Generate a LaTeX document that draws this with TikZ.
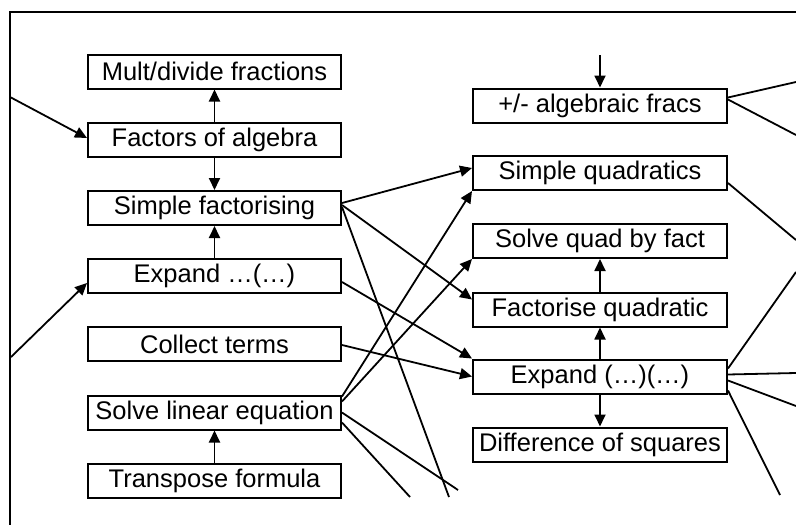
\documentclass[tikz,border=0pt]{standalone}
\usepackage{fontspec}
\setmainfont{Liberation Sans}
\usetikzlibrary{arrows.meta}
\begin{document}
\begin{tikzpicture}[x=1pt,y=-1pt,
  box/.style={draw, line width=2pt, minimum width=253pt, minimum height=34pt, inner sep=0pt, font=\fontsize{25.5}{30}\selectfont},
  conn/.style={line width=1.8pt},
  arr/.style={conn, -{Triangle[length=12pt,width=11pt]}}]
\useasboundingbox (0,0) rectangle (796,525);
\fill[white] (0,0) rectangle (796,525);
% frame
\draw[line width=2.2pt] (10,525) -- (10,12) -- (796,12);
% left column
\node[box] (mult)  at (214.5,71.5) {Mult/divide fractions};
\node[box] (fact)  at (214.5,140) {Factors of algebra};
\node[box] (sfact) at (214.5,208) {Simple factorising};
\node[box] (exp1)  at (214.5,276) {Expand \dots(\dots)};
\node[box] (coll)  at (214.5,344) {Collect terms};
\node[box] (solve) at (214.5,412.5) {Solve linear equation};
\node[box] (trans) at (214.5,480.5) {Transpose formula};
% right column
\node[box, minimum width=254pt] (alg)    at (600,105.5) {+/- algebraic fracs};
\node[box, minimum width=254pt] (squad)  at (600,173) {Simple quadratics};
\node[box, minimum width=254pt] (sqfact) at (600,241) {Solve quad by fact};
\node[box, minimum width=254pt] (fquad)  at (600,309.5) {Factorise quadratic};
\node[box, minimum width=254pt] (exp2)   at (600,376.5) {Expand (\dots)(\dots)};
\node[box, minimum width=254pt] (diff)   at (600,444.5) {Difference of squares};
% free ends
\coordinate (inA) at (10,97);
\coordinate (inB) at (11,357);
\coordinate (inC) at (600,55);
\coordinate (o1) at (796,82);
\coordinate (o2) at (796,135);
\coordinate (o3) at (796,240);
\coordinate (o4) at (796,272);
\coordinate (o5) at (796,373);
\coordinate (o6) at (796,406);
\coordinate (o7) at (780,495);
\coordinate (b1) at (449,497);
\coordinate (b2) at (458,490);
\coordinate (b3) at (410,497);
% incoming / outgoing
\draw[arr] (inA) -- ([yshift=2pt]fact.west);
\draw[arr] (inB) -- ([yshift=-7pt]exp1.west);
\draw[arr] (inC) -- (alg.north);
\draw[conn] ([yshift=8pt]alg.east) -- (o1);
\draw[conn] ([yshift=6pt]alg.east) -- (o2);
\draw[conn] ([yshift=-10pt]squad.east) -- (o3);
\draw[conn] ([yshift=8pt]exp2.east) -- (o4);
\draw[conn] ([yshift=2pt]exp2.east) -- (o5);
\draw[conn] ([yshift=-4pt]exp2.east) -- (o6);
\draw[conn] ([yshift=-14pt]exp2.east) -- (o7);
% vertical
\draw[arr] (fact) -- (mult);
\draw[arr] (fact) -- (sfact);
\draw[arr] (exp1) -- (sfact);
\draw[arr] (trans) -- (solve);
\draw[arr] (fquad) -- (sqfact);
\draw[arr] (exp2) -- (fquad);
\draw[arr] (exp2) -- (diff);
% crossing
\draw[arr] ([yshift=5pt]sfact.east) -- ([yshift=5pt]squad.west);
\draw[arr] ([yshift=3pt]sfact.east) -- ([yshift=10pt]fquad.west);
\draw[conn] ([yshift=1pt]sfact.east) -- (b1);
\draw[arr] ([yshift=16pt]solve.east) -- (squad.south west);
\draw[arr] ([yshift=11pt]solve.east) -- (sqfact.south west);
\draw[conn] (solve.east) -- (b2);
\draw[conn] ([yshift=-10pt]solve.east) -- (b3);
\draw[arr] ([yshift=-6pt]exp1.east) -- (exp2.north west);
\draw[arr] ([yshift=-1pt]coll.east) -- (exp2.west);
\end{tikzpicture}
\end{document}
